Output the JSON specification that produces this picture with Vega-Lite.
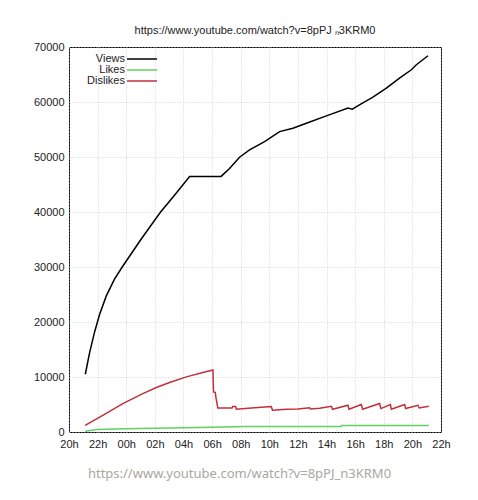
{
  "$schema": "https://vega.github.io/schema/vega-lite/v6.json",
  "width": 372,
  "height": 385,
  "autosize": "none",
  "padding": {"left": 69, "top": 47, "right": 37, "bottom": 68},
  "background": "white",
  "title": {
    "text": "https://www.youtube.com/watch?v=8pPJ ₙ3KRM0",
    "font": "Liberation Sans",
    "fontSize": 11,
    "fontWeight": "normal",
    "color": "#222",
    "offset": 5,
    "anchor": "middle"
  },
  "config": {
    "view": {"stroke": "black", "strokeWidth": 1},
    "axis": {
      "labelFont": "Liberation Sans",
      "labelFontSize": 11,
      "labelColor": "#222",
      "domain": false,
      "ticks": false,
      "tickSize": 0,
      "grid": true,
      "gridColor": "#c4c4c4",
      "gridDash": [1, 2],
      "gridWidth": 0.8
    }
  },
  "data": {
    "values": [
      {"h": 1.14, "series": "Views", "count": 10500},
      {"h": 1.43, "series": "Views", "count": 14300},
      {"h": 1.78, "series": "Views", "count": 18100},
      {"h": 2.13, "series": "Views", "count": 21300},
      {"h": 2.60, "series": "Views", "count": 24700},
      {"h": 3.18, "series": "Views", "count": 27800},
      {"h": 3.72, "series": "Views", "count": 30000},
      {"h": 5.00, "series": "Views", "count": 34900},
      {"h": 6.40, "series": "Views", "count": 40000},
      {"h": 7.26, "series": "Views", "count": 42700},
      {"h": 8.43, "series": "Views", "count": 46470},
      {"h": 10.63, "series": "Views", "count": 46470},
      {"h": 11.22, "series": "Views", "count": 47900},
      {"h": 11.92, "series": "Views", "count": 49960},
      {"h": 12.62, "series": "Views", "count": 51290},
      {"h": 13.67, "series": "Views", "count": 52800},
      {"h": 14.72, "series": "Views", "count": 54620},
      {"h": 15.65, "series": "Views", "count": 55240},
      {"h": 16.59, "series": "Views", "count": 56150},
      {"h": 17.99, "series": "Views", "count": 57480},
      {"h": 19.50, "series": "Views", "count": 58890},
      {"h": 19.80, "series": "Views", "count": 58700},
      {"h": 20.30, "series": "Views", "count": 59490},
      {"h": 21.24, "series": "Views", "count": 60890},
      {"h": 22.18, "series": "Views", "count": 62530},
      {"h": 23.10, "series": "Views", "count": 64350},
      {"h": 23.93, "series": "Views", "count": 65860},
      {"h": 24.28, "series": "Views", "count": 66770},
      {"h": 25.09, "series": "Views", "count": 68410},

      {"h": 1.13, "series": "Likes", "count": 150},
      {"h": 1.95, "series": "Likes", "count": 450},
      {"h": 3.90, "series": "Likes", "count": 600},
      {"h": 8.10, "series": "Likes", "count": 780},
      {"h": 10.00, "series": "Likes", "count": 880},
      {"h": 12.40, "series": "Likes", "count": 980},
      {"h": 19.00, "series": "Likes", "count": 1000},
      {"h": 19.05, "series": "Likes", "count": 1180},
      {"h": 25.15, "series": "Likes", "count": 1200},

      {"h": 1.13, "series": "Dislikes", "count": 1220},
      {"h": 2.36, "series": "Dislikes", "count": 3040},
      {"h": 3.76, "series": "Dislikes", "count": 5170},
      {"h": 5.16, "series": "Dislikes", "count": 6990},
      {"h": 6.10, "series": "Dislikes", "count": 8080},
      {"h": 7.03, "series": "Dislikes", "count": 9000},
      {"h": 8.20, "series": "Dislikes", "count": 10020},
      {"h": 9.36, "series": "Dislikes", "count": 10810},
      {"h": 10.06, "series": "Dislikes", "count": 11290},
      {"h": 10.10, "series": "Dislikes", "count": 7300},
      {"h": 10.22, "series": "Dislikes", "count": 7200},
      {"h": 10.28, "series": "Dislikes", "count": 6100},
      {"h": 10.40, "series": "Dislikes", "count": 4350},
      {"h": 11.40, "series": "Dislikes", "count": 4350},
      {"h": 11.45, "series": "Dislikes", "count": 4650},
      {"h": 11.65, "series": "Dislikes", "count": 4650},
      {"h": 11.69, "series": "Dislikes", "count": 4150},
      {"h": 12.74, "series": "Dislikes", "count": 4370},
      {"h": 14.14, "series": "Dislikes", "count": 4620},
      {"h": 14.22, "series": "Dislikes", "count": 3950},
      {"h": 15.19, "series": "Dislikes", "count": 4130},
      {"h": 16.00, "series": "Dislikes", "count": 4200},
      {"h": 16.82, "series": "Dislikes", "count": 4400},
      {"h": 16.88, "series": "Dislikes", "count": 4200},
      {"h": 17.52, "series": "Dislikes", "count": 4300},
      {"h": 18.34, "series": "Dislikes", "count": 4680},
      {"h": 18.42, "series": "Dislikes", "count": 4130},
      {"h": 19.50, "series": "Dislikes", "count": 4860},
      {"h": 19.57, "series": "Dislikes", "count": 4130},
      {"h": 20.43, "series": "Dislikes", "count": 4990},
      {"h": 20.52, "series": "Dislikes", "count": 4130},
      {"h": 21.71, "series": "Dislikes", "count": 5170},
      {"h": 21.80, "series": "Dislikes", "count": 4260},
      {"h": 22.46, "series": "Dislikes", "count": 4990},
      {"h": 22.53, "series": "Dislikes", "count": 4130},
      {"h": 23.46, "series": "Dislikes", "count": 4990},
      {"h": 23.53, "series": "Dislikes", "count": 4260},
      {"h": 24.39, "series": "Dislikes", "count": 4860},
      {"h": 24.48, "series": "Dislikes", "count": 4370},
      {"h": 25.15, "series": "Dislikes", "count": 4680}
    ]
  },
  "mark": {"type": "line", "strokeWidth": 1.5, "interpolate": "linear"},
  "encoding": {
    "x": {
      "field": "h",
      "type": "quantitative",
      "scale": {"domain": [0, 26], "nice": false, "zero": false},
      "axis": {
        "values": [0, 2, 4, 6, 8, 10, 12, 14, 16, 18, 20, 22, 24, 26],
        "labelExpr": "(((datum.value + 20) % 24) < 10 ? '0' : '') + ((datum.value + 20) % 24) + 'h'",
        "labelPadding": 6,
        "labelFlush": false,
        "title": "https://www.youtube.com/watch?v=8pPJ_n3KRM0",
        "titleFont": "Noto Sans",
        "titleFontSize": 13,
        "titleFontWeight": "normal",
        "titleColor": "#a8a89e",
        "titlePadding": 18,
        "titleX": 170,
        "titleAlign": "center"
      }
    },
    "y": {
      "field": "count",
      "type": "quantitative",
      "scale": {"domain": [0, 70000], "nice": false},
      "axis": {
        "values": [0, 10000, 20000, 30000, 40000, 50000, 60000, 70000],
        "format": "d",
        "labelPadding": 5,
        "title": null
      }
    },
    "color": {
      "field": "series",
      "type": "nominal",
      "scale": {"domain": ["Views", "Likes", "Dislikes"], "range": ["#000000", "#5fd35f", "#c0303a"]},
      "legend": {
        "orient": "none",
        "legendX": 67,
        "legendY": 6,
        "title": null,
        "symbolType": "M-3,0H3",
        "symbolSize": 100,
        "symbolStrokeWidth": 1.5,
        "labelAlign": "right",
        "labelOffset": -23,
        "labelFont": "Liberation Sans",
        "labelFontSize": 11,
        "labelColor": "#222",
        "rowPadding": 0
      }
    }
  }
}
